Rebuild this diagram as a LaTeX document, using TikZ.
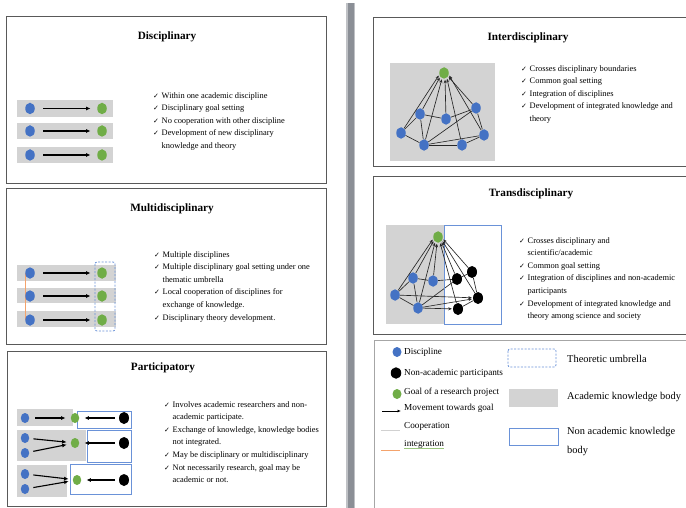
\documentclass[tikz,border=0pt]{standalone}
\usepackage{fontspec}
\setmainfont{Liberation Serif}
\newfontfamily\symfont{DejaVu Sans}
\usetikzlibrary{shapes.geometric,arrows.meta}

\definecolor{dblue}{HTML}{4472C4}
\definecolor{dgreen}{HTML}{70AD47}
\definecolor{kgray}{HTML}{D3D3D3}
\definecolor{nblue}{HTML}{6A92D8}
\definecolor{coopor}{HTML}{F4A36C}
\definecolor{bargray}{HTML}{8B8F96}

\newcommand\ckm{\makebox[8.5pt][l]{\symfont\fontsize{7}{7}\selectfont ✓}}
\newcommand\cind{\hspace*{8.5pt}}

\pgfdeclarelayer{back}
\pgfdeclarelayer{bg}
\pgfsetlayers{back,bg,main}

\tikzset{
  panel/.style={draw=black!65, line width=0.8pt},
  dotnode/.style={ellipse, inner sep=0pt, minimum width=9.5pt, minimum height=11.5pt},
  disc/.style={dotnode, fill=dblue},
  goal/.style={dotnode, fill=dgreen},
  nonac/.style={dotnode, fill=black, minimum width=10pt, minimum height=12pt},
  sdot/.style={dotnode, minimum width=8.5pt, minimum height=10pt},
  mv/.style={-{Latex[length=4.5pt,width=4pt]}, line width=1.4pt},
  net/.style={black!85, line width=0.65pt},
  netar/.style={net, -{Stealth[length=3.5pt,width=3pt]}},
  bul/.style={align=left, inner sep=0pt, anchor=north west,
    font=\fontsize{8.4}{12.6}\selectfont},
  ttl/.style={inner sep=0pt, font=\fontsize{11.2}{13}\selectfont\bfseries},
  legtxt/.style={inner sep=0pt, anchor=west, font=\fontsize{9.2}{11}\selectfont},
  legbig/.style={inner sep=0pt, anchor=west, font=\fontsize{10.4}{19}\selectfont},
  umbrella/.style={draw=nblue, dashed, dash pattern=on 2pt off 1.5pt, line width=0.8pt, rounded corners=2pt},
}

\begin{document}
\begin{tikzpicture}[x=1pt,y=-1pt]
\useasboundingbox (0,0) rectangle (686,508);
\begin{pgfonlayer}{back}
\fill[white] (0,0) rectangle (686,508);
% knowledge-body backgrounds
\fill[kgray] (17,100) rectangle (113,117);
\fill[kgray] (17,123) rectangle (113,139);
\fill[kgray] (17,147) rectangle (113,163);
\fill[kgray] (17,265) rectangle (116,281);
\fill[kgray] (17,288) rectangle (116,303);
\fill[kgray] (17,311) rectangle (116,327);
\fill[kgray] (17,409) rectangle (73,426);
\fill[kgray] (17,430) rectangle (86,461);
\fill[kgray] (17,465) rectangle (67,497);
\fill[kgray] (390,63) rectangle (495,161);
\fill[kgray] (386,225) rectangle (444,324);
\end{pgfonlayer}

% column divider
\fill[bargray!55] (346,3) rectangle (355,508);
\fill[bargray] (347.5,3) rectangle (353.5,508);

% ---------- panels ----------
\draw[panel] (6,16) rectangle (326,183);
\draw[panel] (6,188) rectangle (326,344);
\draw[panel] (7,351) rectangle (326,506);
\draw[panel] (373,17) rectangle (690,166);
\draw[panel] (373,176) rectangle (690,334);
\draw[black!35, line width=0.7pt] (374,512) -- (374,340) -- (690,340);

% ---------- Disciplinary ----------
\node[ttl] (dttl) at (167,37) {Disciplinary};
\node[disc] (db1) at (30,108.5) {};
\node[goal] (dg1) at (102,108.5) {};
\node[disc] (db2) at (30,131) {};
\node[goal] (dg2) at (102,131) {};
\node[disc] (db3) at (30,155) {};
\node[goal] (dg3) at (102,155) {};
\foreach \i in {1,2,3}
  \draw[mv, shorten <=8.5pt, shorten >=6.5pt] (db\i) -- (dg\i);
\node[bul] (dtxt) at (153,92) {\ckm Within one academic discipline\\
\ckm Disciplinary goal setting\\
\ckm No cooperation with other discipline\\
\ckm Development of new disciplinary\\
\cind knowledge and theory};

% ---------- Multidisciplinary ----------
\node[ttl] (mttl) at (172,209) {Multidisciplinary};
\node[disc] (mb1) at (30,273) {};
\node[goal] (mg1) at (102,273) {};
\node[disc] (mb2) at (30,296) {};
\node[goal] (mg2) at (102,296) {};
\node[disc] (mb3) at (30,320) {};
\node[goal] (mg3) at (102,320) {};
\begin{pgfonlayer}{bg}
\draw[coopor, line width=0.9pt] (mb1.west) -- (mb3.west);
\end{pgfonlayer}
\draw[umbrella] (95,262) rectangle (115,331);
\foreach \i in {1,2,3}
  \draw[mv, shorten <=8.5pt, shorten >=6.5pt] (mb\i) -- (mg\i);
\node[bul] (mtxt) at (154,251) {\ckm Multiple disciplines\\
\ckm Multiple disciplinary goal setting under one\\
\cind thematic umbrella\\
\ckm Local cooperation of disciplines for\\
\cind exchange of knowledge.\\
\ckm Disciplinary theory development.};

% ---------- Participatory ----------
\node[ttl] (pttl) at (163,368) {Participatory};
\draw[nblue, line width=0.8pt] (77,411) rectangle (131,428);
\draw[nblue, line width=0.8pt] (87,430) rectangle (131,462);
\draw[nblue, line width=0.8pt] (70,464) rectangle (131,494);
% row 1
\node[disc, sdot] (pb1) at (25,418) {};
\node[goal, sdot] (pg1) at (75,418) {};
\node[nonac] (pk1) at (124,418) {};
\draw[mv, line width=1.1pt, shorten <=6pt, shorten >=5pt] (pb1) -- (pg1);
\draw[mv, line width=1.1pt, shorten <=4pt, shorten >=5pt] (pk1) -- (pg1);
% row 2
\node[disc, sdot] (pb2) at (25,438) {};
\node[disc, sdot] (pb3) at (25,453) {};
\node[goal, sdot] (pg2) at (75,443) {};
\node[nonac] (pk2) at (124,443) {};
\draw[mv, line width=1.1pt, shorten <=4pt, shorten >=4pt] (pb2) -- (pg2);
\draw[mv, line width=1.1pt, shorten <=4pt, shorten >=4pt] (pb3) -- (pg2);
\draw[mv, line width=1.1pt, shorten <=4pt, shorten >=5pt] (pk2) -- (pg2);
% row 3
\node[disc, sdot] (pb4) at (25,474) {};
\node[disc, sdot] (pb5) at (25,489) {};
\node[goal, sdot] (pg3) at (77,480) {};
\node[nonac] (pk3) at (124,480) {};
\draw[mv, line width=1.1pt, shorten <=4pt, shorten >=4pt] (pb4) -- (pg3);
\draw[mv, line width=1.1pt, shorten <=4pt, shorten >=4pt] (pb5) -- (pg3);
\draw[mv, line width=1.1pt, shorten <=4pt, shorten >=5pt] (pk3) -- (pg3);
\node[bul] (ptxt) at (164,401) {\ckm Involves academic researchers and non-\\
\cind academic participate.\\
\ckm Exchange of knowledge, knowledge bodies\\
\cind not integrated.\\
\ckm May be disciplinary or multidisciplinary\\
\ckm Not necessarily research, goal may be\\
\cind academic or not.};

% ---------- Interdisciplinary ----------
\node[ttl] (ittl) at (528,38) {Interdisciplinary};
\node[goal] (ig) at (444,73) {};
\node[disc] (i1) at (401,133) {};
\node[disc] (i2) at (420,114) {};
\node[disc] (i3) at (446,119) {};
\node[disc] (i4) at (476,108) {};
\node[disc] (i5) at (484,135) {};
\node[disc] (i6) at (424,145) {};
\node[disc] (i7) at (462,145) {};
\begin{pgfonlayer}{bg}
\foreach \a/\b in {i1/i2,i1/i6,i2/i6,i2/i3,i3/i4,i6/i4,i6/i5,i6/i7,i4/i5,i5/i7}
  \draw[net] (\a) -- (\b);
\end{pgfonlayer}
\draw[netar, shorten >=1pt] (i1) -- (ig.200);
\draw[netar, shorten >=1pt] (i2) -- (ig.225);
\draw[netar, shorten >=1pt] (i6) -- (ig.250);
\draw[netar, shorten >=1pt] (i3) -- (ig.280);
\draw[netar, shorten >=1pt] (i7) -- (ig.300);
\draw[netar, shorten >=1pt] (i4) -- (ig.320);
\draw[netar, shorten >=1pt] (i5) -- (ig.340);
\node[bul] (itxt) at (521,65) {\ckm Crosses disciplinary boundaries\\
\ckm Common goal setting\\
\ckm Integration of disciplines\\
\ckm Development of integrated knowledge and\\
\cind theory};

% ---------- Transdisciplinary ----------
\node[ttl] (tttl) at (531,194) {Transdisciplinary};
\draw[nblue, line width=0.8pt] (444,225) rectangle (501,324);
\node[goal] (tg) at (438,237) {};
\node[disc] (t1) at (413,278) {};
\node[disc] (t2) at (433,281) {};
\node[disc] (t3) at (395,295) {};
\node[disc] (t4) at (418,308) {};
\node[nonac] (k1) at (457,279) {};
\node[nonac] (k2) at (472,272) {};
\node[nonac] (k3) at (478,298) {};
\node[nonac] (k4) at (458,309) {};
\begin{pgfonlayer}{bg}
\foreach \a/\b in {t3/t1,t3/t4,t1/t2,t1/t4,t2/k1,k1/k2,k2/k3,k3/k4,t4/k1}
  \draw[net] (\a) -- (\b);
\end{pgfonlayer}
\foreach \a/\b in {t3/k3,t4/k3,t4/k4}
  \draw[netar, shorten >=1pt] (\a) -- (\b);
\draw[netar, shorten >=1pt] (t3) -- (tg.200);
\draw[netar, shorten >=1pt] (t1) -- (tg.220);
\draw[netar, shorten >=1pt] (t4) -- (tg.240);
\draw[netar, shorten >=1pt] (t2) -- (tg.260);
\draw[netar, shorten >=1pt] (k4) -- (tg.290);
\draw[netar, shorten >=1pt] (k1) -- (tg.305);
\draw[netar, shorten >=1pt] (k3) -- (tg.320);
\draw[netar, shorten >=1pt] (k2) -- (tg.340);
\node[bul] (ttxt) at (519,237) {\ckm Crosses disciplinary and\\
\cind scientific/academic\\
\ckm Common goal setting\\
\ckm Integration of disciplines and non-academic\\
\cind participants\\
\ckm Development of integrated knowledge and\\
\cind theory among science and society};

% ---------- Legend ----------
\node[disc, minimum width=9pt, minimum height=10pt] (lgb) at (397,352) {};
\node[legtxt] (lgbt) at (404,352) {Discipline};
\node[nonac, minimum width=10.5pt, minimum height=11.5pt] (lgk) at (396,373) {};
\node[legtxt] (lgkt) at (404,373) {Non-academic participants};
\node[goal, minimum width=9pt, minimum height=10pt] (lgg) at (397,394) {};
\node[legtxt] (lggt) at (404,392) {Goal of a research project};
\coordinate (lm1) at (382,411);
\coordinate (lm2) at (401,411);
\draw[-{Latex[length=3.5pt,width=3pt]}, line width=0.9pt] (lm1) -- (lm2);
\node[legtxt] (lmt) at (404,408) {Movement towards goal};
\coordinate (lc1) at (381,430);
\coordinate (lc2) at (400,430);
\draw[black!18, line width=1pt] (lc1) -- (lc2);
\node[legtxt] (lct) at (404,426) {Cooperation};
\coordinate (lo1) at (381,450);
\coordinate (lo2) at (400,450);
\draw[coopor, line width=1pt] (lo1) -- (lo2);
\node[legtxt] (lot) at (404,444) {integration};
\draw[dgreen!70, line width=0.5pt] (lot.south west) -- (lot.south east);

\draw[umbrella] (508,349) rectangle (556,367);
\node[legbig] (lut) at (567,359) {Theoretic umbrella};
\fill[kgray] (509,389) rectangle (558,407);
\node[legbig] (lat) at (567,397) {Academic knowledge body};
\draw[nblue, line width=0.8pt] (509,428) rectangle (558,445);
\node[legbig, anchor=north west, align=left] (lnt) at (567,427) {Non academic knowledge\\body};
\end{tikzpicture}
\end{document}
